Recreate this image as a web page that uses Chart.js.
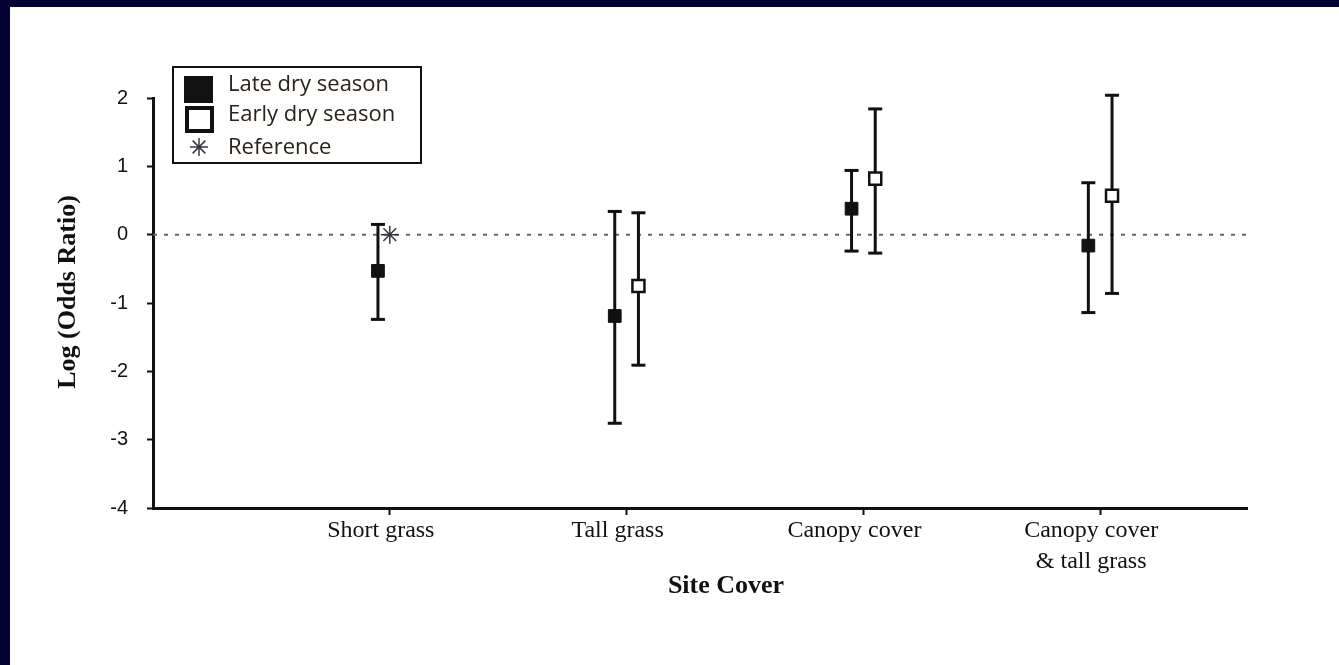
<!DOCTYPE html>
<html>
<head>
<meta charset="utf-8">
<title>Log (Odds Ratio) by Site Cover</title>
<script src="https://cdn.jsdelivr.net/npm/chart.js@4.4.1/dist/chart.umd.min.js"></script>
<style>
  html, body { margin: 0; padding: 0; width: 1339px; height: 665px; overflow: hidden; background: #030232; }
  #sheet { position: absolute; left: 10px; top: 7px; width: 1329px; height: 658px; background: #ffffff; }
  canvas { display: block; }
</style>
</head>
<body>
<div id="sheet"><canvas id="plot" width="1329" height="658"></canvas></div>
<script>
// Site cover classes along the x axis
const categories = ['Short grass', 'Tall grass', 'Canopy cover', ['Canopy cover', '& tall grass']];
const categoryPositions = [1, 2, 3, 4];

// Late dry season: estimate with lower / upper limits
const lateMean = [-0.53, -1.19, 0.38, -0.16];
const lateLow  = [-1.24, -2.76, -0.24, -1.14];
const lateHigh = [0.15, 0.34, 0.94, 0.76];

// Early dry season (no estimate for the reference class)
const earlyMean = [null, -0.75, 0.82, 0.57];
const earlyLow  = [null, -1.91, -0.27, -0.86];
const earlyHigh = [null, 0.32, 1.84, 2.04];

// Reference class sits at log odds 0
const referenceValue = [0, null, null, null];

// y axis tick values
const yTicks = [2, 1, 0, -1, -2, -3, -4];

const X_MIN = 0, X_MAX = 4.62;
const SHIFT = 0.05; // side-by-side offset of the two seasons

const INK = '#111111';
const STAR = '#3b3446';

const datasets = [];

// markers first so they sit on top of the whiskers
datasets.push({
  label: 'Late dry season',
  data: lateMean.map((v, i) => ({ x: categoryPositions[i] - SHIFT, y: v })),
  pointStyle: 'rect', pointRadius: 9, pointHoverRadius: 9,
  backgroundColor: INK, borderColor: INK, pointBorderWidth: 1,
  showLine: false, order: 0, clip: false
});
datasets.push({
  label: 'Early dry season',
  data: earlyMean.map((v, i) => v === null ? null : ({ x: categoryPositions[i] + SHIFT, y: v })).filter(p => p),
  pointStyle: 'rect', pointRadius: 8.5, pointHoverRadius: 8.5,
  backgroundColor: '#ffffff', borderColor: INK, pointBorderWidth: 2.5,
  showLine: false, order: 0, clip: false
});
datasets.push({
  label: 'Reference',
  data: referenceValue.map((v, i) => v === null ? null : ({ x: categoryPositions[i], y: v })).filter(p => p),
  pointStyle: 'star', pointRadius: 9, pointHoverRadius: 9,
  backgroundColor: STAR, borderColor: STAR, pointBorderWidth: 1.5,
  showLine: false, order: 0, clip: false
});

// whiskers with end caps
function whisker(x, lo, hi) {
  return {
    data: [{ x: x, y: lo }, { x: x, y: hi }],
    showLine: true, borderColor: INK, borderWidth: 3,
    pointStyle: 'line', pointRadius: 7, pointHoverRadius: 7,
    pointBorderColor: INK, pointBorderWidth: 3,
    order: 1, clip: false
  };
}
lateMean.forEach((v, i) => datasets.push(whisker(categoryPositions[i] - SHIFT, lateLow[i], lateHigh[i])));
earlyMean.forEach((v, i) => { if (v !== null) datasets.push(whisker(categoryPositions[i] + SHIFT, earlyLow[i], earlyHigh[i])); });

// dotted no-effect line at log odds 0
datasets.push({
  data: [{ x: X_MIN, y: 0 }, { x: X_MAX, y: 0 }],
  showLine: true, borderColor: '#666666', borderWidth: 2, borderDash: [4, 7],
  pointRadius: 0, order: 2
});

// legend box and axis titles
const decorations = {
  id: 'decorations',
  afterDraw(chart) {
    const ctx = chart.ctx;
    ctx.save();
    // legend frame
    ctx.strokeStyle = INK;
    ctx.lineWidth = 2;
    ctx.strokeRect(163, 60, 248, 96);
    // filled square
    ctx.fillStyle = INK;
    ctx.fillRect(174, 69, 29, 27);
    // open square
    ctx.lineWidth = 4;
    ctx.strokeRect(177, 101, 25, 23);
    // asterisk
    ctx.strokeStyle = STAR;
    ctx.fillStyle = STAR;
    ctx.lineWidth = 1.5;
    Chart.helpers.drawPoint(ctx, { pointStyle: 'star', radius: 9, rotation: 0, borderWidth: 1.5 }, 189, 140);
    // legend labels
    ctx.fillStyle = '#2b2219';
    ctx.font = '22px "Open Sans"';
    ctx.textAlign = 'left';
    ctx.textBaseline = 'alphabetic';
    ctx.fillText('Late dry season', 218, 84);
    ctx.fillText('Early dry season', 218, 114);
    ctx.fillText('Reference', 218, 147);

    // axis titles
    ctx.fillStyle = INK;
    ctx.font = 'bold 26px "Liberation Serif"';
    ctx.textAlign = 'center';
    ctx.textBaseline = 'middle';
    ctx.fillText('Site Cover', 716, 579);
    ctx.translate(58, 285);
    ctx.rotate(-Math.PI / 2);
    ctx.fillText('Log (Odds Ratio)', 0, 0);
    ctx.restore();
  }
};

new Chart(document.getElementById('plot'), {
  type: 'scatter',
  data: { datasets },
  plugins: [decorations],
  options: {
    responsive: false,
    animation: false,
    layout: { padding: { top: 91, right: 92, left: 0, bottom: 0 } },
    plugins: {
      legend: { display: false },
      tooltip: { enabled: false }
    },
    scales: {
      x: {
        type: 'linear',
        min: X_MIN, max: X_MAX,
        afterFit(scale) { scale.height = 157; },
        afterBuildTicks(scale) { scale.ticks = categoryPositions.map(v => ({ value: v })); },
        ticks: {
          autoSkip: false, maxRotation: 0, padding: 0, labelOffset: -9,
          color: INK,
          font: { family: 'Liberation Serif', size: 24, lineHeight: 1.3 },
          callback: (value) => categories[Math.round(value) - 1]
        },
        grid: { drawOnChartArea: false, drawTicks: true, tickLength: 7, tickColor: INK, tickWidth: 2 },
        border: { color: INK, width: 3 }
      },
      y: {
        type: 'linear',
        min: -4, max: 2,
        afterFit(scale) { scale.width = 143; },
        afterBuildTicks(scale) { scale.ticks = yTicks.map(v => ({ value: v })); },
        ticks: {
          padding: 19, color: INK,
          font: { family: 'Liberation Sans', size: 20 }
        },
        grid: { drawOnChartArea: false, drawTicks: true, tickLength: 6, tickColor: INK, tickWidth: 2 },
        border: { color: INK, width: 3 }
      }
    }
  }
});
</script>
</body>
</html>
